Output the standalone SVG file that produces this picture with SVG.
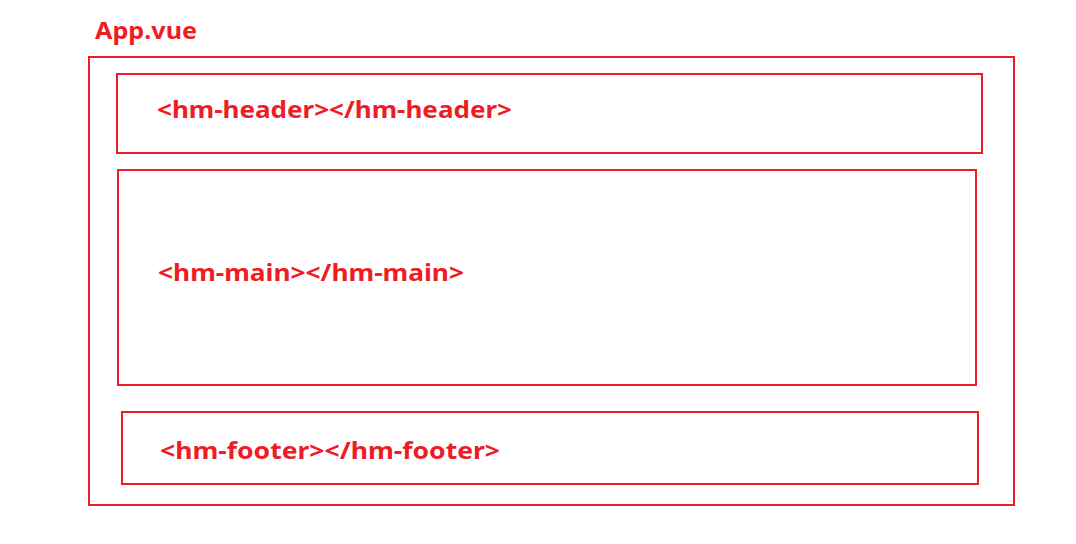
<svg xmlns="http://www.w3.org/2000/svg" width="1076" height="544" viewBox="0 0 1076 544">
<style>
.box{fill:none;stroke:#ee1c25;stroke-width:2}
.t{fill:#ee1c25;font-family:"Noto Sans","Open Sans",sans-serif;font-weight:bold;font-size:22.5px}
</style>
<rect width="1076" height="544" fill="#fff"/>
<g id="app">
<rect class="box" x="89" y="57" width="925" height="448"/>
<text class="t" x="95" y="39" style="font-size:24px" textLength="102" lengthAdjust="spacingAndGlyphs">App.vue</text>
</g>
<g id="header">
<rect class="box" x="117" y="74" width="865" height="79"/>
<text class="t" x="157" y="118" textLength="355" lengthAdjust="spacingAndGlyphs">&lt;hm-header&gt;&lt;/hm-header&gt;</text>
</g>
<g id="main">
<rect class="box" x="118" y="170" width="858" height="215"/>
<text class="t" x="158" y="281" textLength="306" lengthAdjust="spacingAndGlyphs">&lt;hm-main&gt;&lt;/hm-main&gt;</text>
</g>
<g id="footer">
<rect class="box" x="122" y="412" width="856" height="72"/>
<text class="t" x="160" y="459" textLength="340" lengthAdjust="spacingAndGlyphs">&lt;hm-footer&gt;&lt;/hm-footer&gt;</text>
</g>
<g id="connectors"></g>
</svg>
